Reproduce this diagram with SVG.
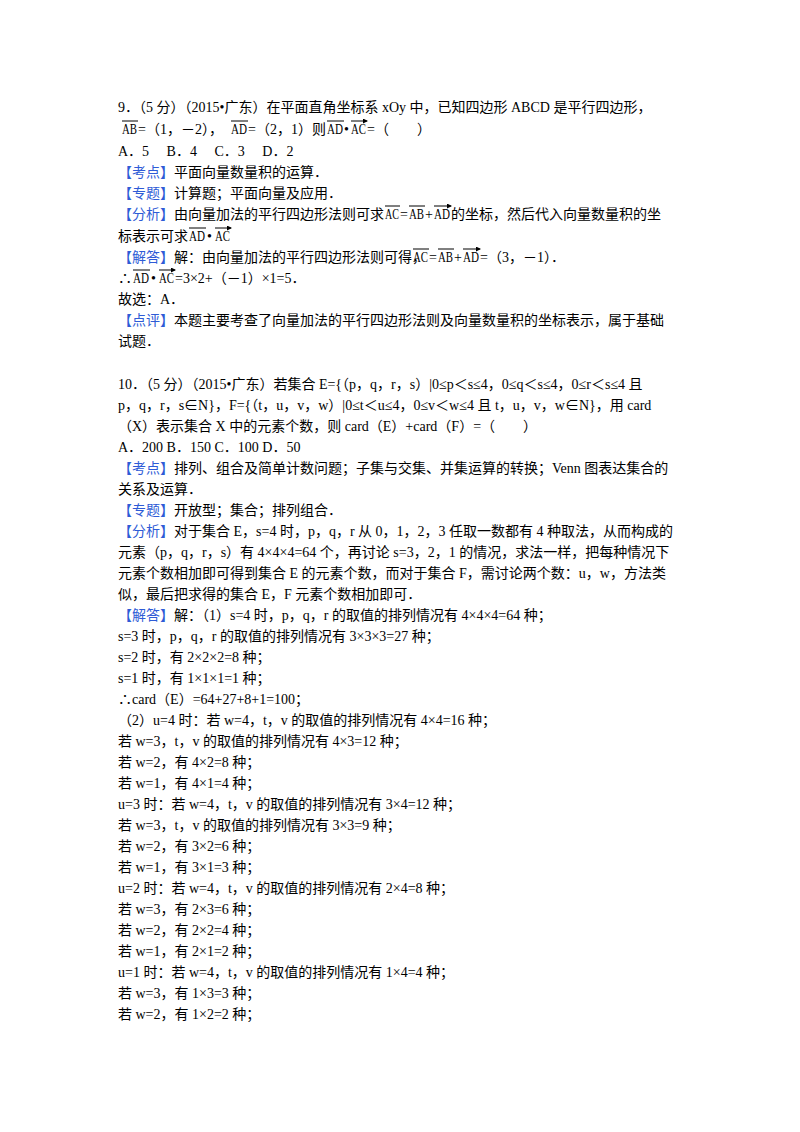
<svg xmlns="http://www.w3.org/2000/svg" width="800" height="1132" viewBox="0 0 800 1132">
<style>
text{font-family:"Liberation Serif","Noto Sans CJK SC",serif;font-size:14px;fill:#000}
.b{fill:#2e5bd6}
.v{stroke:#000;stroke-width:1;fill:none}
</style>
<defs><marker id="a" markerWidth="5" markerHeight="5" refX="4" refY="2.5" orient="auto" markerUnits="userSpaceOnUse"><path d="M0,0L5,2.5L0,5z" fill="#000"/></marker></defs>
<rect width="800" height="1132" fill="#fff"/>
<g id="q9">
<text x="118" y="112">9．（5 分）（2015•广东）在平面直角坐标系 xOy 中，已知四边形  ABCD 是平行四边形，</text>
<text x="122" y="134" textLength="15" lengthAdjust="spacingAndGlyphs">AB</text>
<text x="138" y="134">=（1，－2），</text>
<text x="231" y="134" textLength="16" lengthAdjust="spacingAndGlyphs">AD</text>
<text x="248" y="134">=（2，1）则</text>
<text x="327" y="134" textLength="16" lengthAdjust="spacingAndGlyphs">AD</text>
<text x="344" y="134">•</text>
<text x="351" y="134" textLength="15" lengthAdjust="spacingAndGlyphs">AC</text>
<text x="367" y="134">=（　　）</text>
<path class="v" marker-end="url(#a)" d="M122,121h16M231,121h17M327,121h17M351,121h16"/>
<text x="118" y="156">A．5　 B．4　 C．3　 D．2</text>
<text x="118" y="177"><tspan class="b">【考点】</tspan>平面向量数量积的运算．</text>
<text x="118" y="198"><tspan class="b">【专题】</tspan>计算题；平面向量及应用．</text>
<text x="118" y="219"><tspan class="b">【分析】</tspan>由向量加法的平行四边形法则可求</text>
<text x="385" y="219" textLength="14" lengthAdjust="spacingAndGlyphs">AC</text>
<text x="400" y="219">=</text>
<text x="409" y="219" textLength="15" lengthAdjust="spacingAndGlyphs">AB</text>
<text x="425" y="219">+</text>
<text x="434" y="219" textLength="16" lengthAdjust="spacingAndGlyphs">AD</text>
<text x="451" y="219">的坐标，然后代入向量数量积的坐</text>
<path class="v" marker-end="url(#a)" d="M385,206h15M409,206h16M434,206h17"/>
<text x="118" y="241">标表示可求</text>
<text x="189" y="241" textLength="16" lengthAdjust="spacingAndGlyphs">AD</text>
<text x="207" y="241">•</text>
<text x="215" y="241" textLength="15" lengthAdjust="spacingAndGlyphs">AC</text>
<path class="v" marker-end="url(#a)" d="M189,228h17M215,228h16"/>
<text x="118" y="262"><tspan class="b">【解答】</tspan>解：由向量加法的平行四边形法则可得，</text>
<text x="413" y="262" textLength="15" lengthAdjust="spacingAndGlyphs">AC</text>
<text x="429" y="262">=</text>
<text x="438" y="262" textLength="15" lengthAdjust="spacingAndGlyphs">AB</text>
<text x="454" y="262">+</text>
<text x="463" y="262" textLength="16" lengthAdjust="spacingAndGlyphs">AD</text>
<text x="480" y="262">=（3，－1）．</text>
<path class="v" marker-end="url(#a)" d="M413,249h16M438,249h16M463,249h17"/>
<text x="118" y="283">∴</text>
<text x="133" y="283" textLength="16" lengthAdjust="spacingAndGlyphs">AD</text>
<text x="151" y="283">•</text>
<text x="159" y="283" textLength="15" lengthAdjust="spacingAndGlyphs">AC</text>
<text x="175" y="283">=3×2+（－1）×1=5．</text>
<path class="v" marker-end="url(#a)" d="M133,270h17M159,270h16"/>
<text x="118" y="304">故选：A．</text>
<text x="118" y="325"><tspan class="b">【点评】</tspan>本题主要考查了向量加法的平行四边形法则及向量数量积的坐标表示，属于基础</text>
<text x="118" y="346">试题．</text>
</g>
<g id="q10">
<text x="118" y="389">10．（5 分）（2015•广东）若集合 E={（p，q，r，s）|0≤p＜s≤4，0≤q＜s≤4，0≤r＜s≤4 且</text>
<text x="118" y="410">p，q，r，s∈N}，F={（t，u，v，w）|0≤t＜u≤4，0≤v＜w≤4 且 t，u，v，w∈N}，用 card</text>
<text x="118" y="431">（X）表示集合 X 中的元素个数，则  card（E）+card（F）=（　　）</text>
<text x="118" y="452">A．200  B．150  C．100  D．50</text>
<text x="118" y="473"><tspan class="b">【考点】</tspan>排列、组合及简单计数问题；子集与交集、并集运算的转换；Venn 图表达集合的</text>
<text x="118" y="494">关系及运算．</text>
<text x="118" y="515"><tspan class="b">【专题】</tspan>开放型；集合；排列组合．</text>
<text x="118" y="536"><tspan class="b">【分析】</tspan>对于集合 E，s=4 时，p，q，r 从 0，1，2，3 任取一数都有 4 种取法，从而构成的</text>
<text x="118" y="557">元素（p，q，r，s）有 4×4×4=64 个，再讨论 s=3，2，1 的情况，求法一样，把每种情况下</text>
<text x="118" y="578">元素个数相加即可得到集合 E 的元素个数，而对于集合 F，需讨论两个数：u，w，方法类</text>
<text x="118" y="599">似，最后把求得的集合 E，F 元素个数相加即可．</text>
<text x="118" y="620"><tspan class="b">【解答】</tspan>解：（1）s=4 时，p，q，r 的取值的排列情况有 4×4×4=64 种；</text>
<text x="118" y="641">s=3 时，p，q，r 的取值的排列情况有 3×3×3=27 种；</text>
<text x="118" y="662">s=2 时，有 2×2×2=8 种；</text>
<text x="118" y="683">s=1 时，有 1×1×1=1 种；</text>
<text x="118" y="704">∴card（E）=64+27+8+1=100；</text>
<text x="118" y="725">（2）u=4 时：若 w=4，t，v 的取值的排列情况有 4×4=16 种；</text>
<text x="118" y="746">若 w=3，t，v 的取值的排列情况有 4×3=12 种；</text>
<text x="118" y="767">若 w=2，有 4×2=8 种；</text>
<text x="118" y="788">若 w=1，有 4×1=4 种；</text>
<text x="118" y="809">u=3 时：若 w=4，t，v 的取值的排列情况有 3×4=12 种；</text>
<text x="118" y="830">若 w=3，t，v 的取值的排列情况有 3×3=9 种；</text>
<text x="118" y="851">若 w=2，有 3×2=6 种；</text>
<text x="118" y="872">若 w=1，有 3×1=3 种；</text>
<text x="118" y="893">u=2 时：若 w=4，t，v 的取值的排列情况有 2×4=8 种；</text>
<text x="118" y="914">若 w=3，有 2×3=6 种；</text>
<text x="118" y="935">若 w=2，有 2×2=4 种；</text>
<text x="118" y="956">若 w=1，有 2×1=2 种；</text>
<text x="118" y="977">u=1 时：若 w=4，t，v 的取值的排列情况有 1×4=4 种；</text>
<text x="118" y="998">若 w=3，有 1×3=3 种；</text>
<text x="118" y="1019">若 w=2，有 1×2=2 种；</text>
</g>
</svg>
